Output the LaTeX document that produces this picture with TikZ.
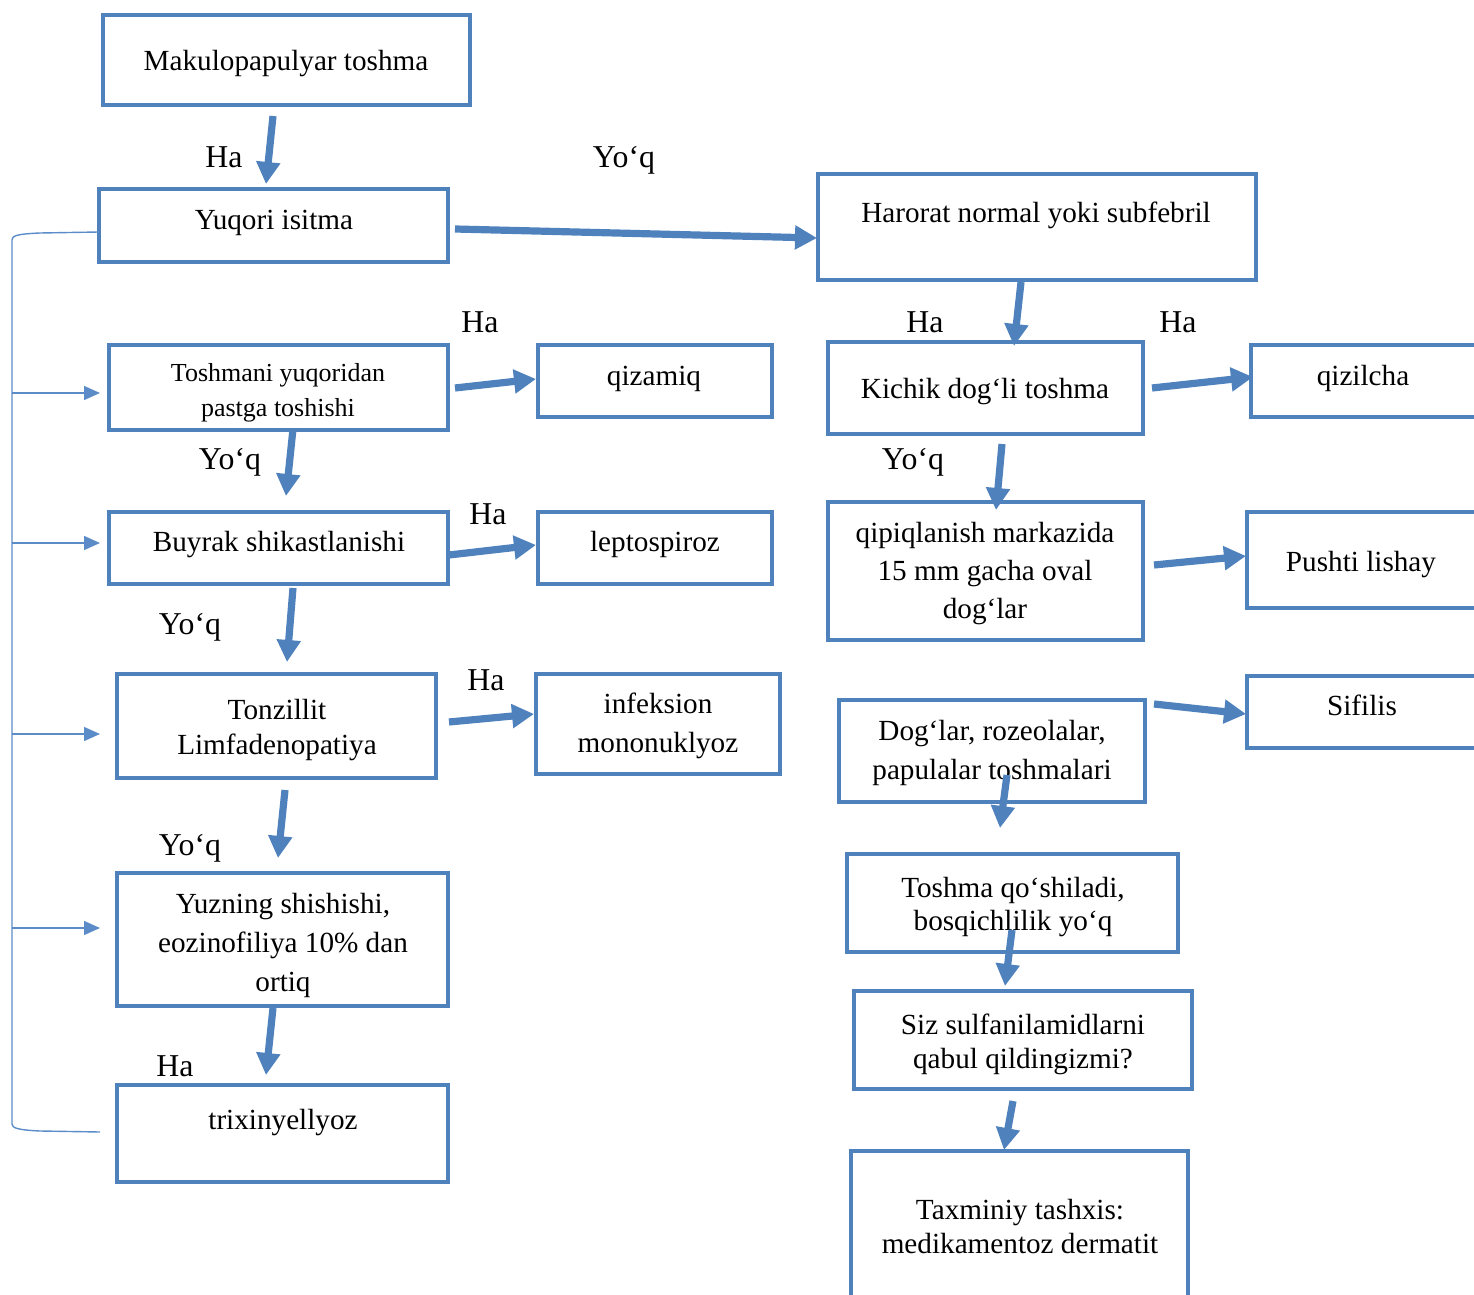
\documentclass[tikz,border=0pt]{standalone}
\usepackage{fontspec}
\setmainfont{Liberation Serif}
\usetikzlibrary{arrows.meta,fit}
\definecolor{bl}{HTML}{4F81BD}
\definecolor{blt}{HTML}{5B8CC8}
\tikzset{
  box/.style={draw=bl,line width=1.6pt,inner sep=0pt,rectangle},
  txt/.style={inner sep=0pt,anchor=base,font=\fontsize{14.6}{17}\selectfont},
  stxt/.style={inner sep=0pt,anchor=base,font=\fontsize{13}{16}\selectfont},
  lbl/.style={inner sep=0pt,anchor=base,font=\fontsize{15.9}{18}\selectfont},
  fat/.style={draw=bl,line width=3.6pt,-{Triangle[length=11pt,width=11.5pt]}},
  thin/.style={draw=blt,line width=0.7pt,-{Triangle[length=8pt,width=7pt]}},
}
\begin{document}
\begin{tikzpicture}[x=0.5pt,y=-0.5pt]
\useasboundingbox (0,0) rectangle (1474,1295);
\clip (0,0) rectangle (1474,1295);
% boxes
\node[box,fit={(103,15) (470,105)}] (b1) {};
\node[box,fit={(99,189) (448,262)}] (b2) {};
\node[box,fit={(818,174) (1256,280)}] (b3) {};
\node[box,fit={(109,345) (448,430)}] (b4) {};
\node[box,fit={(538,345) (772,417)}] (b5) {};
\node[box,fit={(828,342) (1143,434)}] (b6) {};
\node[box,fit={(1251,345) (1490,417)}] (b7) {};
\node[box,fit={(109,512) (448,584)}] (b8) {};
\node[box,fit={(538,512) (772,584)}] (b9) {};
\node[box,fit={(828,502) (1143,640)}] (b10) {};
\node[box,fit={(1247,512) (1490,608)}] (b11) {};
\node[box,fit={(117,674) (436,778)}] (b12) {};
\node[box,fit={(536,674) (780,774)}] (b13) {};
\node[box,fit={(839,700) (1145,802)}] (b14) {};
\node[box,fit={(1247,676) (1490,748)}] (b15) {};
\node[box,fit={(117,873) (448,1006)}] (b16) {};
\node[box,fit={(847,854) (1178,952)}] (b17) {};
\node[box,fit={(117,1085) (448,1182)}] (b18) {};
\node[box,fit={(854,991) (1192,1089)}] (b19) {};
\node[box,fit={(851,1151) (1188,1320)}] (b20) {};
% texts
\node[txt] (t1) at (286,71) {Makulopapulyar toshma};
\node[txt] (t2) at (274,229) {Yuqori isitma};
\node[txt] (t3) at (1036,222) {Harorat normal yoki subfebril};
\node[stxt] (t4a) at (278,381) {Toshmani yuqoridan};
\node[stxt] (t4b) at (278,416) {pastga toshishi};
\node[txt] (t5) at (654,385) {qizamiq};
\node[txt] (t6) at (985,398) {Kichik dog‘li toshma};
\node[txt] (t7) at (1363,385) {qizilcha};
\node[txt] (t8) at (279,551) {Buyrak shikastlanishi};
\node[txt] (t9) at (655,551) {leptospiroz};
\node[txt] (t10a) at (985,542) {qipiqlanish markazida};
\node[txt] (t10b) at (985,580) {15 mm gacha oval};
\node[txt] (t10c) at (985,618) {dog‘lar};
\node[txt] (t11) at (1361,571) {Pushti lishay};
\node[txt] (t12a) at (277,719) {Tonzillit};
\node[txt] (t12b) at (277,754) {Limfadenopatiya};
\node[txt] (t13a) at (658,713) {infeksion};
\node[txt] (t13b) at (658,752) {mononuklyoz};
\node[txt] (t14a) at (992,740) {Dog‘lar, rozeolalar,};
\node[txt] (t14b) at (992,779) {papulalar toshmalari};
\node[txt] (t15) at (1362,715) {Sifilis};
\node[txt] (t16a) at (283,913) {Yuzning shishishi,};
\node[txt] (t16b) at (283,952) {eozinofiliya 10\% dan};
\node[txt] (t16c) at (283,991) {ortiq};
\node[txt] (t17a) at (1013,897) {Toshma qo‘shiladi,};
\node[txt] (t17b) at (1013,930) {bosqichlilik yo‘q};
\node[txt] (t18) at (283,1129) {trixinyellyoz};
\node[txt] (t19a) at (1023,1034) {Siz sulfanilamidlarni};
\node[txt] (t19b) at (1023,1068) {qabul qildingizmi?};
\node[txt] (t20a) at (1020,1219) {Taxminiy tashxis:};
\node[txt] (t20b) at (1020,1253) {medikamentoz dermatit};
% labels
\node[lbl] (l1) at (224,168) {Ha};
\node[lbl] (l2) at (624,168) {Yo‘q};
\node[lbl] (l3) at (480,332) {Ha};
\node[lbl] (l4) at (925,332) {Ha};
\node[lbl] (l5) at (1178,332) {Ha};
\node[lbl] (l6) at (230,469) {Yo‘q};
\node[lbl] (l7) at (913,469) {Yo‘q};
\node[lbl] (l8) at (488,524) {Ha};
\node[lbl] (l9) at (190,634) {Yo‘q};
\node[lbl] (l10) at (486,690) {Ha};
\node[lbl] (l11) at (190,855) {Yo‘q};
\node[lbl] (l12) at (175,1076) {Ha};
% arrow end points
\coordinate (a1s) at (273,116); \coordinate (a1e) at (266,184);
\coordinate (a2s) at (455,229); \coordinate (a2e) at (817,238);
\coordinate (a3s) at (1021,282); \coordinate (a3e) at (1014,346);
\coordinate (a4s) at (455,388); \coordinate (a4e) at (536,379);
\coordinate (a5s) at (1152,388); \coordinate (a5e) at (1253,377);
\coordinate (a6s) at (293,429); \coordinate (a6e) at (286,496);
\coordinate (a7s) at (1002,444); \coordinate (a7e) at (996,510);
\coordinate (a8s) at (449,555); \coordinate (a8e) at (536,545);
\coordinate (a9s) at (293,588); \coordinate (a9e) at (287,662);
\coordinate (a10s) at (1154,565); \coordinate (a10e) at (1246,556);
\coordinate (a11s) at (449,722); \coordinate (a11e) at (534,714);
\coordinate (a12s) at (285,790); \coordinate (a12e) at (278,858);
\coordinate (a13s) at (1154,704); \coordinate (a13e) at (1246,714);
\coordinate (a14s) at (1007,775); \coordinate (a14e) at (1000,828);
\coordinate (a15s) at (273,1008); \coordinate (a15e) at (266,1075);
\coordinate (a16s) at (1012,930); \coordinate (a16e) at (1005,986);
\coordinate (a17s) at (1013,1101); \coordinate (a17e) at (1004,1150);
\foreach \i in {1,...,17} {\draw[fat] (a\i s) -- (a\i e);}
% bracket
\coordinate (k0) at (99,232);
\coordinate (k1) at (100,1132);
\draw[draw=blt,line width=0.7pt] (k0) -- (40,233) .. controls (16,234) and (12,236) .. (12,240)
   -- (12,1124) .. controls (12,1128) and (18,1130) .. (40,1131) -- (k1);
\coordinate (s1) at (12,393); \coordinate (e1) at (100,393);
\coordinate (s2) at (12,543); \coordinate (e2) at (100,543);
\coordinate (s3) at (12,734); \coordinate (e3) at (100,734);
\coordinate (s4) at (12,928); \coordinate (e4) at (100,928);
\foreach \i in {1,...,4} {\draw[thin] (s\i) -- (e\i);}
\end{tikzpicture}
\end{document}
